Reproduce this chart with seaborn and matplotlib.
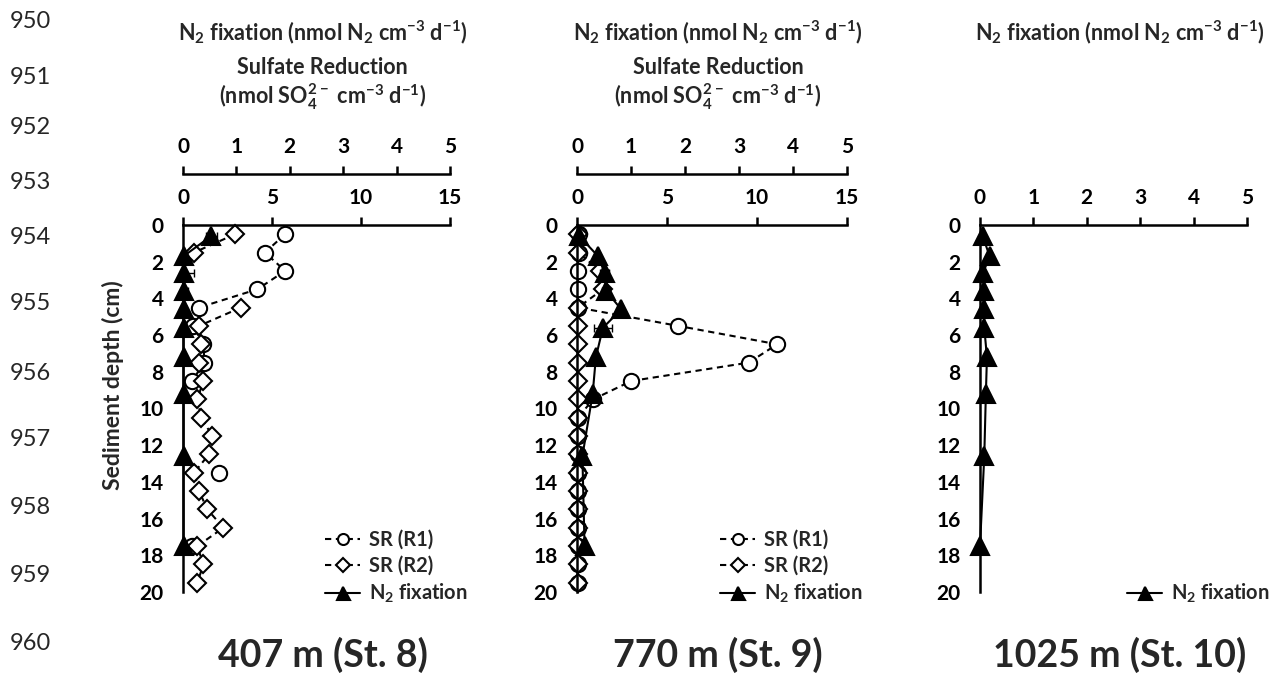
import numpy as np
import pandas as pd
import matplotlib

matplotlib.use("Agg")
import matplotlib.pyplot as plt
from matplotlib.lines import Line2D
import seaborn as sns

nan = np.nan

# ---------------------------------------------------------------- data
# depth midpoints of sediment slices (cm)
sr_depth = [0.5, 1.5, 2.5, 3.5, 4.5, 5.5, 6.5, 7.5, 8.5, 9.5,
            10.5, 11.5, 12.5, 13.5, 14.5, 15.5, 16.5, 17.5, 18.5, 19.5]
n2_depth = [0.6, 1.7, 2.6, 3.6, 4.6, 5.6, 7.2, 9.2, 12.6, 17.5]

# St. 8 (407 m)
st8_sr_r1 = [5.74, 4.6, 5.74, 4.18, 0.9, 0.55, 1.15, 1.2, 0.5, nan,
             nan, nan, nan, 2.0, nan, nan, nan, 0.5, nan, nan]
st8_sr_r2 = [2.93, 0.62, nan, nan, 3.25, 0.9, 1.0, 0.9, 1.15, 0.8,
             1.03, 1.65, 1.46, 0.62, 0.9, 1.37, 2.27, 0.8, 1.15, 0.8]
st8_n2 = [0.53, 0.01, 0.01, 0.01, 0.01, 0.01, 0.01, 0.01, 0.01, 0.01]
st8_n2_err = [0.1, 0.05, 0.2, 0.08, 0.05, 0.03, 0.02, 0.02, 0.02, 0.02]

# St. 9 (770 m)
st9_sr_r1 = [0.1, 0.1, 0.05, 0.05, 0.05, 5.63, 11.12, 9.54, 3.02, 0.9,
             0.05, 0.05, 0.05, 0.05, 0.05, 0.05, 0.05, 0.05, 0.05, 0.05]
st9_sr_r2 = [0.05, 0.05, 1.3, 1.45, 0.05, 0.05, 0.05, 0.05, 0.05, 0.05,
             0.05, 0.05, 0.05, 0.05, 0.05, 0.05, 0.05, 0.05, 0.05, 0.05]
st9_n2 = [0.04, 0.39, 0.51, 0.54, 0.82, 0.48, 0.35, 0.29, 0.1, 0.14]
st9_n2_err = [0.02, 0.04, 0.08, 0.08, 0.04, 0.16, 0.04, 0.03, 0.02, 0.02]

# St. 10 (1025 m)
st10_n2 = [0.05, 0.18, 0.06, 0.08, 0.08, 0.08, 0.13, 0.11, 0.08, 0.0]

stations = ["407 m (St. 8)", "770 m (St. 9)", "1025 m (St. 10)"]
line_numbers = [str(n) for n in range(950, 961)]

N2_TITLE = "N$_2$ fixation (nmol N$_2$ cm$^{-3}$ d$^{-1}$)"
SR_TITLE = "Sulfate Reduction"
SR_UNITS = "(nmol SO$_4^{2-}$ cm$^{-3}$ d$^{-1}$)"

# ---------------------------------------------------------------- style
sns.set_theme(style="white")
plt.rcParams["font.family"] = ["Lato", "DejaVu Sans"]
plt.rcParams["font.weight"] = "bold"
plt.rcParams["mathtext.fontset"] = "custom"
plt.rcParams["mathtext.rm"] = "Lato:bold"
plt.rcParams["mathtext.default"] = "rm"

W, H = 1278, 680
TICK_FS = 15
DASH = (0, (3, 2.2))
R1_STYLE = dict(linestyle=DASH, marker="o", markersize=11, markerfacecolor="white")
R2_STYLE = dict(linestyle=DASH, marker="D", markersize=9.5, markerfacecolor="white")
N2_STYLE = dict(linestyle="-", marker="^", markersize=13, markerfacecolor="black")


def profile(values, depth):
    df = pd.DataFrame({"rate": values, "depth": depth})
    df["seg"] = df["rate"].isna().cumsum()  # break the line at gaps
    return df.dropna()


def draw(ax, values, depth, style):
    sns.lineplot(data=profile(values, depth), x="rate", y="depth", units="seg",
                 estimator=None, sort=False, orient="y", ax=ax, color="black",
                 linewidth=1.5, markeredgecolor="black", markeredgewidth=1.5,
                 legend=False, clip_on=False, **style)
    ax.set_xlabel("")
    ax.set_ylabel("")


def errorbars(ax, values, depth, err):
    # like the spreadsheet original, the bar stops at the zero axis
    lower = [min(e, v) for e, v in zip(err, values)]
    ax.errorbar(values, depth, xerr=[lower, err], fmt="none", ecolor="black",
                elinewidth=1, capsize=3, capthick=1, clip_on=False)


def style_axis(ax, xmax, xticks):
    ax.set_xlim(0, xmax)
    ax.set_ylim(20, 0)
    ax.set_xticks(xticks)
    ax.set_yticks(range(0, 21, 2))
    for s in ("right", "bottom"):
        ax.spines[s].set_visible(False)
    for s in ("top", "left"):
        ax.spines[s].set_linewidth(1.8)
        ax.spines[s].set_color("black")
    ax.xaxis.set_ticks_position("top")
    ax.tick_params(axis="both", direction="out", length=6, width=1.8,
                   labelsize=TICK_FS, colors="black")
    ax.tick_params(axis="x", pad=6, top=True, bottom=False,
                   labeltop=True, labelbottom=False)
    ax.tick_params(axis="y", pad=8)
    ax.set_facecolor("none")


def n2_axis(ax):
    ax2 = ax.twiny()
    ax2.set_xlim(0, 5)
    ax2.set_xticks(range(0, 6))
    for s in ("right", "bottom", "left"):
        ax2.spines[s].set_visible(False)
    ax2.spines["top"].set_position(("outward", 37))
    ax2.spines["top"].set_linewidth(1.8)
    ax2.spines["top"].set_color("black")
    ax2.tick_params(axis="x", direction="out", length=6, width=1.8,
                    labelsize=TICK_FS, pad=6, colors="black")
    ax2.set_facecolor("none")
    return ax2


def legend(ax, handles, x_px):
    ax.legend(handles=[h for h, _ in handles], labels=[l for _, l in handles],
              loc="lower left", bbox_to_anchor=(x_px / W, 75 / H),
              bbox_transform=ax.figure.transFigure, frameon=False,
              fontsize=14.5, handlelength=1.75, handletextpad=0.45,
              labelspacing=0.3, borderaxespad=0, borderpad=0, markerscale=0.72)


def handle(style):
    return Line2D([], [], color="black", lw=1.5, markeredgecolor="black",
                  markeredgewidth=1.5, **style)


r1_handle, r2_handle, n2_handle = handle(R1_STYLE), handle(R2_STYLE), handle(N2_STYLE)

# ---------------------------------------------------------------- figure
fig = plt.figure(figsize=(W / 100, H / 100), dpi=100)
bottom, height = 88 / H, 367 / H
panels = [(183, 267), (577, 270), (980, 267)]
axes = [fig.add_axes([x / W, bottom, w / W, height]) for x, w in panels]

sr_panels = [
    (st8_sr_r1, st8_sr_r2, st8_n2, st8_n2_err, 325),
    (st9_sr_r1, st9_sr_r2, st9_n2, st9_n2_err, 720),
]
for ax, (r1, r2, n2, n2_err, leg_x) in zip(axes[:2], sr_panels):
    draw(ax, r1, sr_depth, R1_STYLE)
    draw(ax, r2, sr_depth, R2_STYLE)
    ax2 = n2_axis(ax)
    errorbars(ax2, n2, n2_depth, n2_err)
    draw(ax2, n2, n2_depth, N2_STYLE)
    ax2.set_xlim(0, 5)
    style_axis(ax, 15, [0, 5, 10, 15])
    legend(ax2, [(r1_handle, "SR (R1)"), (r2_handle, "SR (R2)"),
                 (n2_handle, "N$_2$ fixation")], leg_x)

# St. 10: N2 fixation only
ax = axes[2]
draw(ax, st10_n2, n2_depth, N2_STYLE)
style_axis(ax, 5, range(0, 6))
legend(ax, [(n2_handle, "N$_2$ fixation")], 1127)

# ---------------------------------------------------------------- text
for (x, w), name in zip(panels, stations):
    cx = (x + w / 2 + 6) / W
    fig.text(cx, 1 - 32 / H, N2_TITLE, ha="center", va="center", fontsize=15.5)
    fig.text(cx, 1 - 655 / H, name, ha="center", va="center", fontsize=27)
for x, w in panels[:2]:
    cx = (x + w / 2 + 6) / W
    fig.text(cx, 1 - 67 / H, SR_TITLE, ha="center", va="center", fontsize=15.5)
    fig.text(cx, 1 - 97 / H, SR_UNITS, ha="center", va="center", fontsize=15.5)

fig.text(113 / W, 1 - 385 / H, "Sediment depth (cm)", rotation=90,
         ha="center", va="center", fontsize=16.5)

line_y = [22, 77, 128, 183, 237, 304, 373, 440, 508, 575, 643]
for label, y in zip(line_numbers, line_y):
    fig.text(10 / W, 1 - y / H, label, ha="left", va="center",
             fontsize=17, fontweight="normal")

fig.savefig("out.png", dpi=100)
